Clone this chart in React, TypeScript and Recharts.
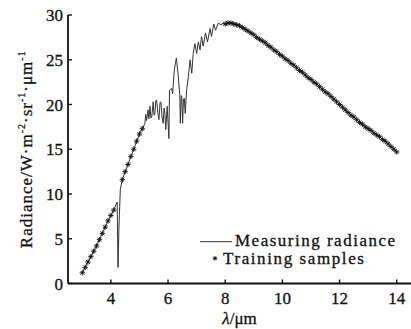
import React from 'react';
import { ComposedChart, Line, Scatter, XAxis, YAxis, Legend } from 'recharts';

// Measured radiance curve (wavelength in µm, radiance in W·m^-2·sr^-1·µm^-1)
const lineLambda = [
  3.0, 3.1, 3.2, 3.3, 3.4, 3.5, 3.6, 3.7, 3.8, 3.9, 4.0, 4.1, 4.2, 4.22, 4.25, 4.28, 4.33, 4.4,
  4.5, 4.6, 4.7, 4.8, 4.9, 5.0, 5.1,
  5.15, 5.19, 5.22, 5.25, 5.3, 5.33, 5.37, 5.4, 5.43, 5.48, 5.51, 5.54, 5.57, 5.6, 5.64, 5.68, 5.72,
  5.75, 5.79, 5.83, 5.86, 5.89, 5.92, 5.97, 6.03, 6.05,
  6.13, 6.16, 6.22, 6.29, 6.36, 6.41, 6.43, 6.46, 6.48, 6.51, 6.54, 6.57, 6.6, 6.65, 6.71, 6.77,
  6.83, 6.88, 6.94, 7.0, 7.06, 7.12, 7.17, 7.23, 7.31, 7.38, 7.47, 7.52, 7.6, 7.66, 7.76, 7.85,
  7.93, 8.01,
  8.1, 8.2, 8.3, 8.4, 8.5, 8.6, 8.7, 8.8, 8.9, 9.0, 9.1, 9.2, 9.3, 9.4, 9.5, 9.6, 9.7, 9.8, 9.9,
  10.0, 10.1, 10.2, 10.3, 10.4, 10.5, 10.6, 10.7, 10.8, 10.9, 11.0, 11.1, 11.2, 11.3, 11.4, 11.5,
  11.6, 11.7, 11.8, 11.9, 12.0, 12.1, 12.2, 12.3, 12.4, 12.5, 12.6, 12.7, 12.8, 12.9, 13.0, 13.1,
  13.2, 13.3, 13.4, 13.5, 13.6, 13.7, 13.8, 13.9, 14.0,
];
const lineRadiance = [
  1.2, 1.8, 2.4, 3.0, 3.6, 4.2, 4.9, 5.6, 6.3, 7.0, 7.6, 8.2, 9.0, 9.1, 1.8, 6.0, 10.5, 11.6,
  12.5, 13.3, 14.2, 15.0, 15.9, 16.7, 17.3,
  17.6, 17.9, 18.9, 18.2, 19.4, 18.4, 19.8, 18.5, 18.6, 20.3, 18.8, 19.0, 20.4, 20.5, 19.1, 18.3, 20.2,
  20.3, 18.6, 17.9, 19.6, 19.0, 17.2, 19.8, 16.2, 21.6,
  21.8, 21.2, 23.9, 25.2, 23.1, 21.1, 17.9, 21.0, 20.9, 17.9, 20.6, 20.7, 19.0, 21.6, 23.1, 25.0,
  23.5, 25.7, 26.8, 25.7, 27.0, 26.1, 27.6, 26.5, 28.0, 27.0, 28.5, 27.6, 29.0, 28.3, 29.1, 28.9,
  29.1, 28.9,
  29.1, 29.1, 29.0, 28.9, 28.8, 28.6, 28.4, 28.2, 28.0, 27.8, 27.5, 27.3, 27.1, 26.9, 26.6, 26.4,
  26.1, 25.9, 25.6, 25.4, 25.1, 24.9, 24.6, 24.4, 24.1, 23.8, 23.6, 23.3, 23.0, 22.8, 22.5, 22.3,
  22.0, 21.7, 21.4, 21.2, 20.9, 20.6, 20.3, 20.0, 19.7, 19.4, 19.1, 18.8, 18.6, 18.3, 18.0, 17.8,
  17.5, 17.3, 17.1, 16.8, 16.6, 16.4, 16.1, 15.9, 15.6, 15.3, 15.0, 14.7,
];

// Training samples
const sampleLambda = [
  3.0, 3.1, 3.2, 3.3, 3.4, 3.5, 3.6, 3.7, 3.8, 3.9, 4.0, 4.1,
  4.4, 4.5, 4.6, 4.7, 4.8, 4.9, 5.0, 5.1,
  8.0, 8.1, 8.2, 8.3, 8.4, 8.5, 8.6, 8.7, 8.8, 8.9, 9.0, 9.1, 9.2, 9.3, 9.4, 9.5, 9.6, 9.7, 9.8, 9.9,
  10.0, 10.1, 10.2, 10.3, 10.4, 10.5, 10.6, 10.7, 10.8, 10.9, 11.0, 11.1, 11.2, 11.3, 11.4, 11.5,
  11.6, 11.7, 11.8, 11.9, 12.0, 12.1, 12.2, 12.3, 12.4, 12.5, 12.6, 12.7, 12.8, 12.9, 13.0, 13.1,
  13.2, 13.3, 13.4, 13.5, 13.6, 13.7, 13.8, 13.9, 14.0,
];
const sampleRadiance = [
  1.2, 1.8, 2.4, 3.0, 3.6, 4.2, 4.9, 5.6, 6.3, 7.0, 7.6, 8.2,
  11.6, 12.5, 13.3, 14.2, 15.0, 15.9, 16.7, 17.3,
  29.0, 29.1, 29.1, 29.0, 28.9, 28.8, 28.6, 28.4, 28.2, 28.0, 27.8, 27.5, 27.3, 27.1, 26.9, 26.6, 26.4,
  26.1, 25.9, 25.6, 25.4, 25.1, 24.9, 24.6, 24.4, 24.1, 23.8, 23.6, 23.3, 23.0, 22.8, 22.5, 22.3,
  22.0, 21.7, 21.4, 21.2, 20.9, 20.6, 20.3, 20.0, 19.7, 19.4, 19.1, 18.8, 18.6, 18.3, 18.0, 17.8,
  17.5, 17.3, 17.1, 16.8, 16.6, 16.4, 16.1, 15.9, 15.6, 15.3, 15.0, 14.7,
];

const xTicks = [4, 6, 8, 10, 12, 14];
const yTicks = [0, 5, 10, 15, 20, 25, 30];
const seriesNames = ['Measuring radiance', 'Training samples'];

const FONT = 'Liberation Serif, Tinos, DejaVu Serif, serif';
const INK = '#111';

const lineData = lineLambda.map((x, i) => ({ x, y: lineRadiance[i] }));
const sampleData = sampleLambda.map((x, i) => ({ x, y: sampleRadiance[i] }));

const starPath = (cx: number, cy: number, r: number) => {
  const d = r * 0.72;
  return `M${cx - r},${cy}H${cx + r}M${cx},${cy - r}V${cy + r}M${cx - d},${cy - d}L${cx + d},${cy + d}M${cx - d},${cy + d}L${cx + d},${cy - d}`;
};

const Star = (props: any) => {
  const { cx, cy } = props;
  if (cx == null || cy == null) return <g />;
  return <path d={starPath(cx, cy, 2.7)} stroke="#111" strokeWidth={0.9} fill="none" />;
};

const textStyle = { fontFamily: FONT } as React.CSSProperties;
const heavy = { stroke: INK, strokeWidth: 0.3 };

const YLabel = (props: any) => {
  const vb = props.viewBox || { x: 0, y: 15, width: 68, height: 268.5 };
  const cx = 32;
  const cy = vb.y + vb.height / 2;
  return (
    <text
      x={cx}
      y={cy}
      transform={`rotate(-90, ${cx}, ${cy})`}
      textAnchor="middle"
      style={textStyle}
      fontSize={17}
      letterSpacing={1}
      fill={INK}
      {...heavy}
    >
      Radiance/W·m
      <tspan dy={-7} fontSize={10}>-2</tspan>
      <tspan dy={7}>·sr</tspan>
      <tspan dy={-7} fontSize={10}>-1</tspan>
      <tspan dy={7}>·μm</tspan>
      <tspan dy={-7} fontSize={10}>-1</tspan>
    </text>
  );
};

const XLabel = (props: any) => {
  const vb = props.viewBox || { x: 68, y: 283.5, width: 343, height: 45.5 };
  const cx = vb.x + vb.width / 2;
  return (
    <text x={cx} y={324} textAnchor="middle" style={textStyle} fontSize={17} fill={INK} {...heavy}>
      <tspan fontStyle="italic">λ</tspan>/μm
    </text>
  );
};

const LegendContent = (props: any) => {
  const payload = props.payload || [];
  const names = seriesNames.map((n, i) => (payload[i] && payload[i].value) || n);
  return (
    <svg width={216} height={44} style={{ display: 'block', overflow: 'visible' }}>
      <line x1={5} y1={13.7} x2={37} y2={13.7} stroke="#333" strokeWidth={1} />
      <text x={40} y={17.7} style={textStyle} fontSize={17} letterSpacing={1.5} fill={INK} {...heavy}>
        {names[0]}
      </text>
      <path d={starPath(20, 30.3, 2.2)} stroke="#111" strokeWidth={1} fill="none" />
      <text x={28} y={36.3} style={textStyle} fontSize={17} letterSpacing={1.6} fill={INK} {...heavy}>
        {names[1]}
      </text>
    </svg>
  );
};

export default function App() {
  return (
    <div style={{ position: 'absolute', left: 0, top: 0, width: 411, height: 329, background: '#fff', fontFamily: FONT }}>
      <ComposedChart width={411} height={329} margin={{ top: 15, right: 0, bottom: 0, left: 0 }} style={textStyle}>
        <XAxis
          type="number"
          dataKey="x"
          domain={[2.5, 14.5]}
          ticks={xTicks}
          allowDataOverflow
          height={45.5}
          tickSize={-4}
          tickMargin={12}
          axisLine={{ stroke: INK, strokeWidth: 1.8 }}
          tickLine={{ stroke: INK, strokeWidth: 1.4 }}
          tick={{ fill: INK, fontSize: 17, style: textStyle, ...heavy }}
          label={{ content: XLabel }}
        />
        <YAxis
          type="number"
          domain={[0, 30]}
          ticks={yTicks}
          allowDataOverflow
          width={68}
          tickSize={-4}
          tickMargin={9}
          axisLine={{ stroke: INK, strokeWidth: 1.8 }}
          tickLine={{ stroke: INK, strokeWidth: 1.4 }}
          tick={{ fill: INK, fontSize: 17, style: textStyle, ...heavy }}
          label={{ content: YLabel }}
        />
        <Line
          name={seriesNames[0]}
          data={lineData}
          dataKey="y"
          type="linear"
          stroke="#333"
          strokeWidth={1}
          dot={false}
          activeDot={false}
          isAnimationActive={false}
        />
        <Scatter
          name={seriesNames[1]}
          data={sampleData}
          dataKey="y"
          shape={Star}
          isAnimationActive={false}
        />
        <Legend
          layout="vertical"
          align="center"
          verticalAlign="middle"
          content={LegendContent}
          wrapperStyle={{ left: 195, top: 228, width: 216, height: 44 }}
        />
      </ComposedChart>
    </div>
  );
}
